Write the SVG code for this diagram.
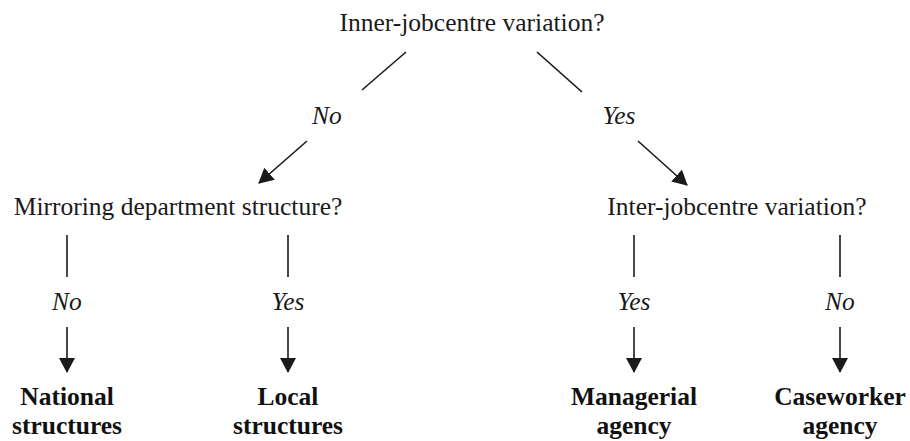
<svg xmlns="http://www.w3.org/2000/svg" width="910" height="441" viewBox="0 0 910 441">
  <style>
    text { font-family: 'Liberation Serif', serif; font-size: 25.5px; fill: #1a1a1a; text-anchor: middle; }
    .lbl { font-style: italic; }
    .out { font-weight: bold; fill: #111111; }
    .ln { stroke: #1a1a1a; stroke-width: 1.6; fill: none; }
    .arr { stroke: #1a1a1a; stroke-width: 1.6; fill: none; marker-end: url(#head); }
  </style>
  <defs>
    <marker id="head" viewBox="0 0 15 16" refX="14" refY="8" markerWidth="15" markerHeight="16" markerUnits="userSpaceOnUse" orient="auto">
      <path d="M0,0 L15,8 L0,16 z" fill="#1a1a1a"/>
    </marker>
  </defs>

  <g id="connectors">
    <!-- root split -->
    <line class="ln" x1="406" y1="52" x2="362" y2="90"/>
    <line class="ln" x1="537" y1="52" x2="582" y2="92"/>
    <line class="arr" x1="307" y1="141" x2="259" y2="183"/>
    <line class="arr" x1="638" y1="141" x2="687" y2="185"/>
    <!-- left branch -->
    <line class="ln" x1="67" y1="235" x2="67" y2="277"/>
    <line class="arr" x1="67" y1="327" x2="67" y2="372"/>
    <line class="ln" x1="288" y1="235" x2="288" y2="277"/>
    <line class="arr" x1="288" y1="327" x2="288" y2="372"/>
    <!-- right branch -->
    <line class="ln" x1="634" y1="235" x2="634" y2="277"/>
    <line class="arr" x1="634" y1="327" x2="634" y2="372"/>
    <line class="ln" x1="840" y1="235" x2="840" y2="277"/>
    <line class="arr" x1="840" y1="327" x2="840" y2="372"/>
    <!-- edge labels -->
    <text class="lbl" x="327" y="124">No</text>
    <text class="lbl" x="619" y="124">Yes</text>
    <text class="lbl" x="67" y="310">No</text>
    <text class="lbl" x="288" y="310">Yes</text>
    <text class="lbl" x="634" y="310">Yes</text>
    <text class="lbl" x="840" y="310">No</text>
  </g>

  <g id="q-inner">
    <text x="472" y="31">Inner-jobcentre variation?</text>
  </g>
  <g id="q-mirroring">
    <text x="178" y="215">Mirroring department structure?</text>
  </g>
  <g id="q-inter">
    <text x="737" y="215">Inter-jobcentre variation?</text>
  </g>
  <g id="national">
    <text class="out" x="67" y="405">National</text>
    <text class="out" x="67" y="434">structures</text>
  </g>
  <g id="local">
    <text class="out" x="288" y="405">Local</text>
    <text class="out" x="288" y="434">structures</text>
  </g>
  <g id="managerial">
    <text class="out" x="634" y="405">Managerial</text>
    <text class="out" x="634" y="434">agency</text>
  </g>
  <g id="caseworker">
    <text class="out" x="840" y="405">Caseworker</text>
    <text class="out" x="840" y="434">agency</text>
  </g>
</svg>
